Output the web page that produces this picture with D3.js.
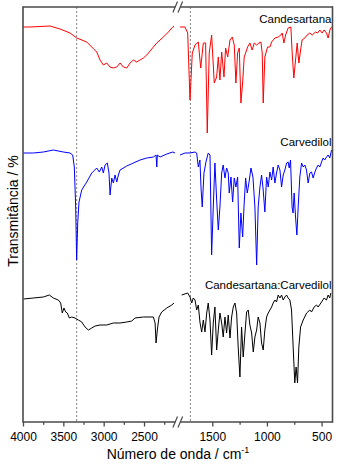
<!DOCTYPE html>
<html><head><meta charset="utf-8">
<script src="https://cdn.jsdelivr.net/npm/d3@7"></script>
<style>
html,body{margin:0;padding:0;background:#fff;}
svg{display:block;font-family:"Liberation Sans",Arial,sans-serif;}
</style></head>
<body><svg id="chart" width="338" height="469"></svg>
<script>
// ---- data (wavenumber cm-1, offset transmittance in arbitrary units) ----
const candWL = [4000,3913,3789,3665,3541,3417,3334,3210,3086,3045,3004,2962,2921,2880,2838,2797,2756,2714,2673,2632,2590,2508,2466,2384,2342,2260,2198,2156,2128];
const candTL = [395,395,395.5,396,393,389,384,380,370,362,357,359,355,354,355,359,355,354,359,362,360,364,367,375,379,385,390,394,396];
const candWR = [1795,1750,1725,1704,1683,1658,1628,1606,1582,1561,1546,1528,1506,1482,1460,1445,1430,1414,1393,1378,1359,1338,1317,1299,1284,1268,1253,1238,1222,1208,1192,1177,1156,1135,1116,1094,1073,1055,1043,1034,1019,994,973,957,927,897,872,860,845,829,806,781,769,754,738,723,708,692,678,653,632,607,586,556,537,516,495,477,455,440,424,409];
const candTR = [395,395,389,322,369,377,380,354,379,379,289,369,387,339,345,365,342,370,345,374,365,382,385,377,339,369,374,319,340,365,370,375,379,372,379,377,379,380,369,319,365,375,375,380,384,385,387,389,379,387,394,395,369,344,362,379,359,372,382,384,387,389,387,390,389,392,389,392,389,384,392,395];

const carvWL = [3996,3872,3748,3624,3500,3417,3384,3364,3347,3335,3322,3306,3272,3210,3148,3086,3054,3024,3004,2983,2955,2934,2921,2900,2880,2859,2838,2818,2797,2714,2632,2549,2466,2384,2351,2342,2335,2301,2218,2144,2115];
const carvTL = [269,269,270,272,270,269,267,255,215,162,199,220,232,240,249,254,250,255,249,257,259,249,227,244,239,247,240,247,252,256,259,262,264,265,267,255,267,265,268,270,269];
const carvWR = [1795,1750,1704,1658,1643,1628,1613,1603,1592,1576,1558,1537,1521,1506,1491,1476,1460,1445,1430,1414,1400,1384,1369,1354,1345,1329,1314,1299,1284,1268,1253,1238,1222,1210,1195,1180,1165,1146,1128,1110,1094,1080,1064,1049,1034,1019,1003,988,973,957,943,927,912,897,881,866,851,836,820,806,796,784,770,761,751,738,726,714,699,683,668,653,638,623,607,592,577,561,546,531,516,500,486,471,455,440,425,409];
const carvTR = [267,269,269,270,269,255,262,234,215,249,260,269,267,167,215,259,222,192,215,249,257,244,254,249,229,245,220,244,235,245,174,209,185,215,244,229,239,254,245,215,157,215,235,247,232,210,245,235,250,242,255,239,249,257,252,235,247,252,259,260,254,262,215,209,229,205,187,215,245,259,255,257,252,239,249,250,244,250,254,257,255,260,264,262,265,267,264,272];

const mixWL = [3996,3872,3748,3674,3624,3562,3533,3513,3492,3471,3451,3426,3396,3355,3314,3272,3231,3190,3148,3107,3045,2962,2880,2797,2714,2652,2611,2508,2384,2363,2351,2335,2314,2281,2218,2156,2128];
const mixTL = [123,124,125,127,124,122,119,109,114,110,109,104,105,104,102,100,95,92,94,96,97,97,99,99,100,101,104,105,105,99,79,92,105,110,114,117,119];
const mixWR = [1780,1725,1704,1688,1674,1658,1643,1628,1613,1597,1582,1567,1551,1537,1521,1506,1491,1476,1460,1445,1430,1414,1400,1384,1369,1354,1338,1323,1308,1293,1277,1263,1247,1232,1217,1201,1186,1171,1156,1140,1125,1110,1094,1080,1064,1049,1034,1019,1003,988,973,957,943,927,912,897,881,866,851,836,820,806,790,775,760,745,733,720,708,692,668,637,607,592,568,546,531,500,477,455,440,425,416];
const mixTR = [127,129,125,119,124,122,112,117,100,90,102,90,109,119,102,67,99,115,72,92,109,99,85,105,89,107,84,105,115,119,109,75,45,95,65,89,110,112,97,89,70,85,92,105,99,79,72,92,105,109,112,115,119,122,120,127,124,127,122,125,127,124,122,112,75,39,55,39,75,95,102,109,112,110,115,117,115,120,124,122,127,124,129];

const seriesNames = ["Candesartana","Carvedilol","Candesartana:Carvedilol"];
const seriesColors = ["#ff0000","#0000ff","#000000"];
const majorTicksL = [4000,3500,3000,2500];
const minorTicksL = [3750,3250,2750,2250];
const majorTicksR = [1500,1000,500];
const minorTicksR = [1250,750];
const refLinesL = [3335];
const refLinesR = [1700];
const xTitle = "Número de onda / cm";
const yTitle = "Transmitância / %";

// ---- layout ----
const svg = d3.select("#chart");
const L = 23, R = 332.5, T = 7, B = 422;
const xL = d3.scaleLinear().domain([4000,2100]).range([L,176.3]);
const xR = d3.scaleLinear().domain([1800,400]).range([179.5,R]);
const y = d3.scaleLinear().domain([0,415]).range([B,T]);
const axisColor = "#4a4a4a";

// reference dashed lines
const g = svg.append("g");
refLinesL.forEach(w => g.append("line").attr("x1",xL(w)).attr("x2",xL(w)).attr("y1",T).attr("y2",B)
  .attr("stroke","#666").attr("stroke-width",0.8).attr("stroke-dasharray","2,2"));
refLinesR.forEach(w => g.append("line").attr("x1",xR(w)).attr("x2",xR(w)).attr("y1",T).attr("y2",B)
  .attr("stroke","#666").attr("stroke-width",0.8).attr("stroke-dasharray","2,2"));

// spectra
const seg = [
  [candWL,candTL,candWR,candTR],
  [carvWL,carvTL,carvWR,carvTR],
  [mixWL,mixTL,mixWR,mixTR]
];
const lineL = d3.line().x(d=>xL(d[0])).y(d=>y(d[1]));
const lineR = d3.line().x(d=>xR(d[0])).y(d=>y(d[1]));
seg.forEach((s,i) => {
  g.append("path").datum(s[0].map((w,k)=>[w,s[1][k]])).attr("d",lineL)
    .attr("fill","none").attr("stroke",seriesColors[i]).attr("stroke-width",1).attr("stroke-linejoin","round");
  g.append("path").datum(s[2].map((w,k)=>[w,s[3][k]])).attr("d",lineR)
    .attr("fill","none").attr("stroke",seriesColors[i]).attr("stroke-width",1).attr("stroke-linejoin","round");
});

// frame
const fw = 1.6;
const gapL = 175.2, gapR = 180.3;
[[L,T,gapL,T],[gapR,T,R,T],[L,B,gapL,B],[gapR,B,R,B],[L,T-0.8,L,B+0.8],[R,T-0.8,R,B+0.8]].forEach(a=>
  svg.append("line").attr("x1",a[0]).attr("y1",a[1]).attr("x2",a[2]).attr("y2",a[3])
    .attr("stroke",axisColor).attr("stroke-width",fw));
// break marks
[T,B].forEach(yy => [gapL, gapR].forEach(xx =>
  svg.append("line").attr("x1",xx-2.3).attr("y1",yy+5.5).attr("x2",xx+2.3).attr("y2",yy-5.5)
    .attr("stroke",axisColor).attr("stroke-width",1.2)));

// bottom axes
function drawAxis(scale, major, minor){
  const a = svg.append("g").attr("transform",`translate(0,${B})`)
    .call(d3.axisBottom(scale).tickValues(major).tickSize(4.5).tickPadding(5.5).tickFormat(d3.format("d")));
  a.select(".domain").remove();
  a.selectAll(".tick line").attr("stroke",axisColor).attr("stroke-width",1.3);
  a.selectAll(".tick text").attr("fill","#000").style("font-size","12px").style("font-family","'Liberation Sans',Arial,sans-serif");
  const m = svg.append("g").attr("transform",`translate(0,${B})`)
    .call(d3.axisBottom(scale).tickValues(minor).tickSize(2.8).tickFormat(""));
  m.select(".domain").remove();
  m.selectAll(".tick line").attr("stroke",axisColor).attr("stroke-width",1.3);
}
drawAxis(xL, majorTicksL, minorTicksL);
drawAxis(xR, majorTicksR, minorTicksR);

// titles
const xt = svg.append("text").attr("x",178).attr("y",459).attr("text-anchor","middle")
  .style("font-size","14px").attr("fill","#000").text(xTitle);
xt.append("tspan").attr("dy",-6).style("font-size","9px").text("-1");
svg.append("text").attr("transform","translate(18,211) rotate(-90)").attr("text-anchor","middle")
  .style("font-size","14px").attr("fill","#000").text(yTitle);

// series labels
const labelY = [23,146,289];
seriesNames.forEach((n,i)=> svg.append("text").attr("x",331.5).attr("y",labelY[i]).attr("text-anchor","end")
  .style("font-size","11.5px").attr("fill","#000").text(n));
</script></body></html>
